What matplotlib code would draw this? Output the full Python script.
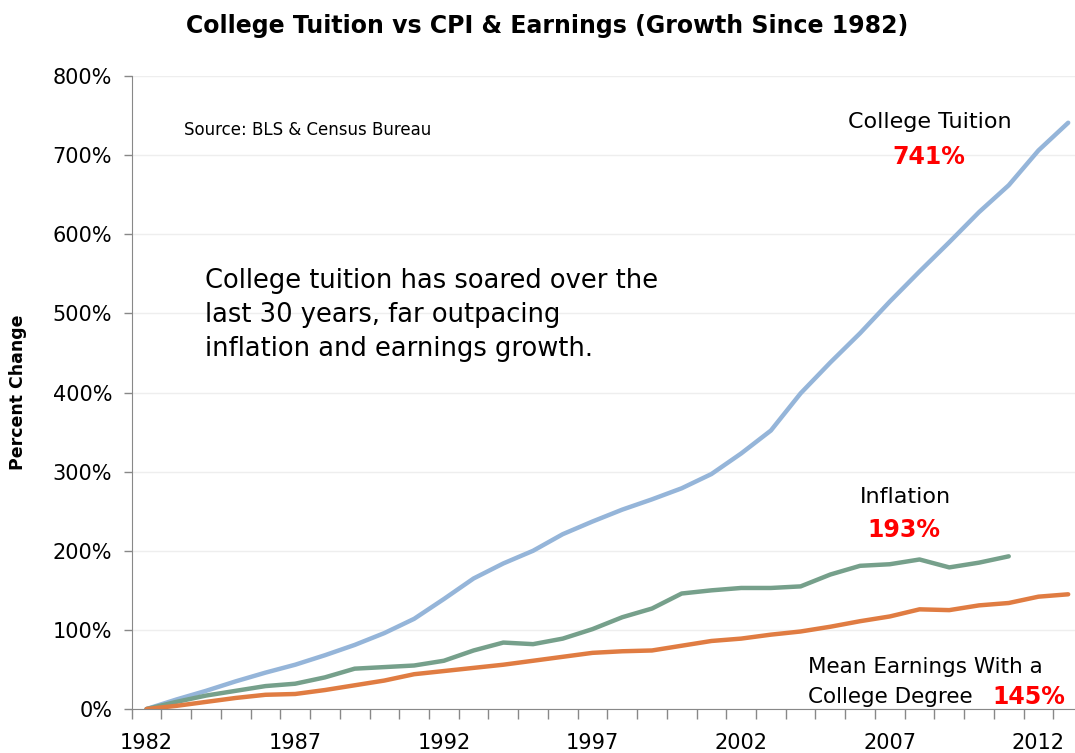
import matplotlib
matplotlib.use("Agg")
import matplotlib.pyplot as plt
from matplotlib.ticker import FixedLocator, FuncFormatter

# growth since 1982, percent
years = list(range(1982, 2014))
tuition = [0, 12, 23, 35, 46, 56, 68, 81, 96, 114, 139, 165, 184, 200, 221, 237,
           252, 265, 279, 297, 323, 352, 399, 438, 475, 515, 553, 590, 628, 662, 706, 741]
inflation = [0, 9, 17, 23, 29, 32, 40, 51, 53, 55, 61, 74, 84, 82, 89, 101,
             116, 127, 146, 150, 153, 153, 155, 170, 181, 183, 189, 179, 185, 193]
earnings = [0, 4, 9, 14, 18, 19, 24, 30, 36, 44, 48, 52, 56, 61, 66, 71,
            73, 74, 80, 86, 89, 94, 98, 104, 111, 117, 126, 125, 131, 134, 142, 145]
year_labels = [1982, 1987, 1992, 1997, 2002, 2007, 2012]

c_tuition = "#95b5d9"
c_inflation = "#76a08b"
c_earnings = "#e07c42"
red = "#ff0000"
font = "DejaVu Sans"

fig = plt.figure(figsize=(10.75, 7.53), dpi=100)
ax = fig.add_axes([0.1225, 0.0584, 0.885, 0.8406])

ax.plot(years, tuition, color=c_tuition, lw=3.2, solid_capstyle="round")
ax.plot(years[:len(inflation)], inflation, color=c_inflation, lw=3.2, solid_capstyle="round")
ax.plot(years, earnings, color=c_earnings, lw=3.2, solid_capstyle="round")

ax.set_xlim(1981.5, 2013.5)
ax.set_ylim(0, 800)
ax.set_yticks(range(0, 801, 100))
ax.yaxis.set_major_formatter(FuncFormatter(lambda v, p: f"{int(v)}%"))
# tick marks sit between the yearly categories, labels every 5 years
ax.xaxis.set_major_locator(FixedLocator([y + 0.5 for y in range(1981, 2014)]))
ax.xaxis.set_major_formatter(FuncFormatter(lambda v, p: ""))
ax.set_xticks(year_labels, minor=True)
ax.set_xticklabels([str(y) for y in year_labels], minor=True)
ax.tick_params(axis="x", which="major", length=7, color="#888888", width=1)
ax.tick_params(axis="x", which="minor", length=0, pad=17, labelsize=15)
ax.tick_params(axis="y", length=6, color="#888888", width=1, labelsize=15, pad=8)
for lab in ax.get_xticklabels(minor=True) + ax.get_yticklabels():
    lab.set_family(font)

ax.grid(axis="y", color="#eeeeee", lw=1)
ax.set_axisbelow(True)
for s in ["top", "right"]:
    ax.spines[s].set_visible(False)
ax.spines["left"].set_color("#888888")
ax.spines["bottom"].set_color("#888888")

fig.text(0.509, 0.966, "College Tuition vs CPI & Earnings (Growth Since 1982)",
         ha="center", va="center", fontsize=17, fontweight="bold", family=font)
fig.text(0.017, 0.479, "Percent Change", rotation=90, ha="center", va="center",
         fontsize=12.5, fontweight="bold", family=font)

fig.text(184 / 1075, 1 - 130 / 753, "Source: BLS & Census Bureau", ha="left", va="center",
         fontsize=12, family=font)
fig.text(205 / 1075, 1 - 315 / 753,
         "College tuition has soared over the\nlast 30 years, far outpacing\ninflation and earnings growth.",
         ha="left", va="center", fontsize=18.5, family=font, linespacing=1.4)

fig.text(930 / 1075, 1 - 122 / 753, "College Tuition", ha="center", va="center",
         fontsize=16, family=font)
fig.text(929 / 1075, 1 - 157 / 753, "741%", ha="center", va="center",
         fontsize=17, fontweight="bold", color=red, family=font)
fig.text(905 / 1075, 1 - 497 / 753, "Inflation", ha="center", va="center",
         fontsize=16, family=font)
fig.text(904 / 1075, 1 - 530 / 753, "193%", ha="center", va="center",
         fontsize=17, fontweight="bold", color=red, family=font)
fig.text(808 / 1075, 1 - 667 / 753, "Mean Earnings With a", ha="left", va="center",
         fontsize=15.5, family=font)
fig.text(808 / 1075, 1 - 697 / 753, "College Degree", ha="left", va="center",
         fontsize=15.5, family=font)
fig.text(1065 / 1075, 1 - 697 / 753, "145%", ha="right", va="center",
         fontsize=17, fontweight="bold", color=red, family=font)

fig.savefig("out.png", dpi=100)
